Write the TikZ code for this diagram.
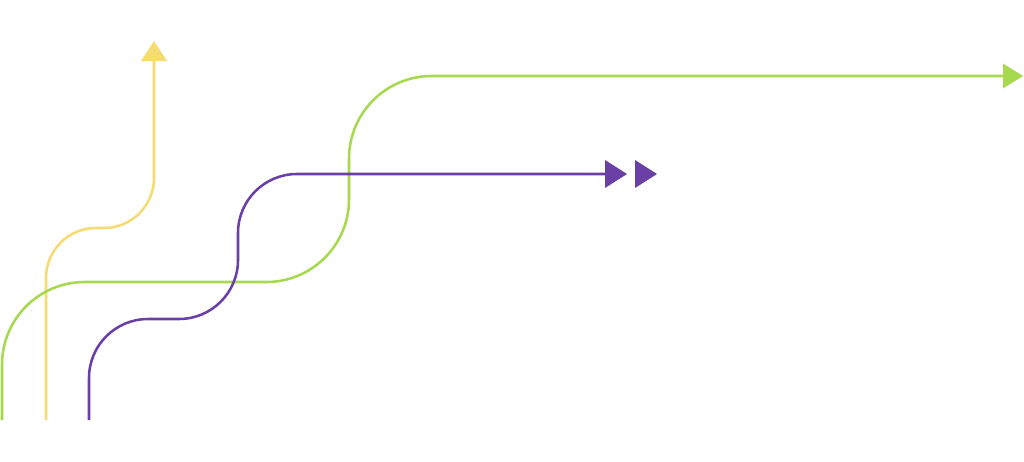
\documentclass[tikz,border=0pt]{standalone}
\definecolor{ylw}{HTML}{F6DC70}
\definecolor{grn}{HTML}{A7D94F}
\definecolor{prp}{HTML}{6A3FA6}
\begin{document}
\begin{tikzpicture}[x=0.75pt,y=-0.75pt,
  track/.style={line width=1.9pt},
  tip/.style={fill=#1,draw=none}]
\useasboundingbox[fill=white] (0,0) rectangle (1024,461);
% yellow
\coordinate (y0) at (46,420);
\coordinate (y1) at (46,228);
\coordinate (y2) at (154,228);
\coordinate (y3) at (154,61);
\draw[track,ylw,rounded corners=37.5pt] (y0) -- (y1) -- (y2) -- (y3);
\fill[tip=ylw] (141,61) -- (154,41) -- (167,61) -- cycle;
% green
\coordinate (g0) at (2,420);
\coordinate (g1) at (2,282);
\coordinate (g2) at (349,282);
\coordinate (g3) at (349,76);
\coordinate (g4) at (1004,76);
\draw[track,grn,rounded corners=62pt] (g0) -- (g1) -- (g2) -- (g3) -- (g4);
\fill[tip=grn] (1003,63.5) -- (1023,76) -- (1003,88.5) -- cycle;
% purple
\coordinate (p0) at (89,420);
\coordinate (p1) at (89,319);
\coordinate (p2) at (238,319);
\coordinate (p3) at (238,174);
\coordinate (p4) at (606,174);
\draw[track,prp,rounded corners=44.25pt] (p0) -- (p1) -- (p2) -- (p3) -- (p4);
\fill[tip=prp] (605,160) -- (627,174) -- (605,188) -- cycle;
\fill[tip=prp] (635,160) -- (657,174) -- (635,188) -- cycle;
\end{tikzpicture}
\end{document}
